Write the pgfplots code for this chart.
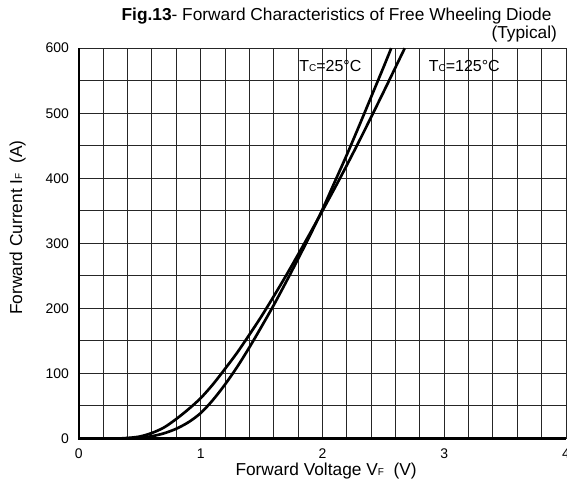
\documentclass[border=0pt]{standalone}
\usepackage{pgfplots}
\pgfplotsset{compat=1.18}
\usepackage{fontspec}
\setmainfont{Liberation Sans}

\newcommand{\sm}[1]{{\fontsize{7.5}{8}\selectfont #1}}

\begin{document}
\begin{tikzpicture}
\begin{axis}[
  scale only axis,
  width=366pt, height=293.25pt,
  xmin=0, xmax=4, ymin=0, ymax=600,
  xtick={0,1,2,3,4}, ytick={0,100,...,600},
  minor xtick={0,0.2,...,4}, minor ytick={0,50,...,600},
  grid=both,
  major grid style={black!85, line width=0.75pt},
  minor grid style={black!85, line width=0.75pt},
  axis line style={black!85, line width=0.75pt},
  major tick length=0pt, minor tick length=0pt,
  tick label style={font=\fontsize{10.5}{12}\selectfont},
  xticklabel style={yshift=-4.5pt},
  yticklabel style={xshift=-4pt},
  /pgf/number format/assume math mode=true,
  xlabel={Forward Voltage V\sm{F}\ \ (V)},
  ylabel={Forward Current I\sm{F}\ \ (A)},
  label style={font=\fontsize{13}{15}\selectfont},
  xlabel style={at={(axis description cs:0.5075,-0.084)}, anchor=center},
  ylabel style={at={(axis description cs:-0.1258,0.54)}, anchor=center},
  clip=false,
]
% Tc = 25 C
\addplot[black, line width=2pt, smooth] coordinates {
  (0,0)(0.3,0)(0.4,0.3)(0.5,1.2)(0.6,3.5)(0.7,8)(0.8,15)(0.9,25)(1.0,39)
  (1.1,59)(1.2,83)(1.3,110)(1.4,140)(1.5,172)(1.6,205)(1.7,240)
  (1.8,276)(1.9,313)(2.0,352)(2.1,394)(2.2,436)(2.3,480)(2.4,525)
  (2.5,570)(2.565,600)
};
% Tc = 125 C
\addplot[black, line width=2pt, smooth] coordinates {
  (0,0)(0.3,0)(0.4,0.8)(0.5,3)(0.6,8.5)(0.7,17)(0.8,30)(0.9,45)(1.0,62)
  (1.1,83)(1.2,107)(1.3,132)(1.4,159.5)(1.5,188)(1.6,218.5)(1.7,250)
  (1.8,282.7)(1.9,316)(2.0,350)(2.1,384.5)(2.2,420)(2.3,456.5)(2.4,494)
  (2.5,532)(2.6,570.6)(2.676,600)
};
\draw[black, line width=1.8pt] (rel axis cs:0,1) -- (rel axis cs:0,0) -- (rel axis cs:1,0);
\node[font=\fontsize{12}{14}\selectfont] at (axis cs:2.065,572) {T\sm{C}=25°C};
\node[font=\fontsize{12}{14}\selectfont] at (axis cs:3.165,572) {T\sm{C}=125°C};
\node[anchor=base, font=\fontsize{13}{15}\selectfont] at (axis description cs:0.529,1.071)
  {\textbf{Fig.13}- Forward Characteristics of Free Wheeling Diode};
\node[anchor=base east, font=\fontsize{13}{15}\selectfont] at (axis description cs:0.991,1.025)
  {(Typical)};
\coordinate (sw) at (rel axis cs:0,0);
\coordinate (ne) at (rel axis cs:1,1);
\end{axis}
\pgfresetboundingbox
\useasboundingbox ([xshift=-59.25pt,yshift=-38pt]sw) rectangle ([xshift=0.75pt,yshift=36.2pt]ne);
\end{tikzpicture}
\end{document}
